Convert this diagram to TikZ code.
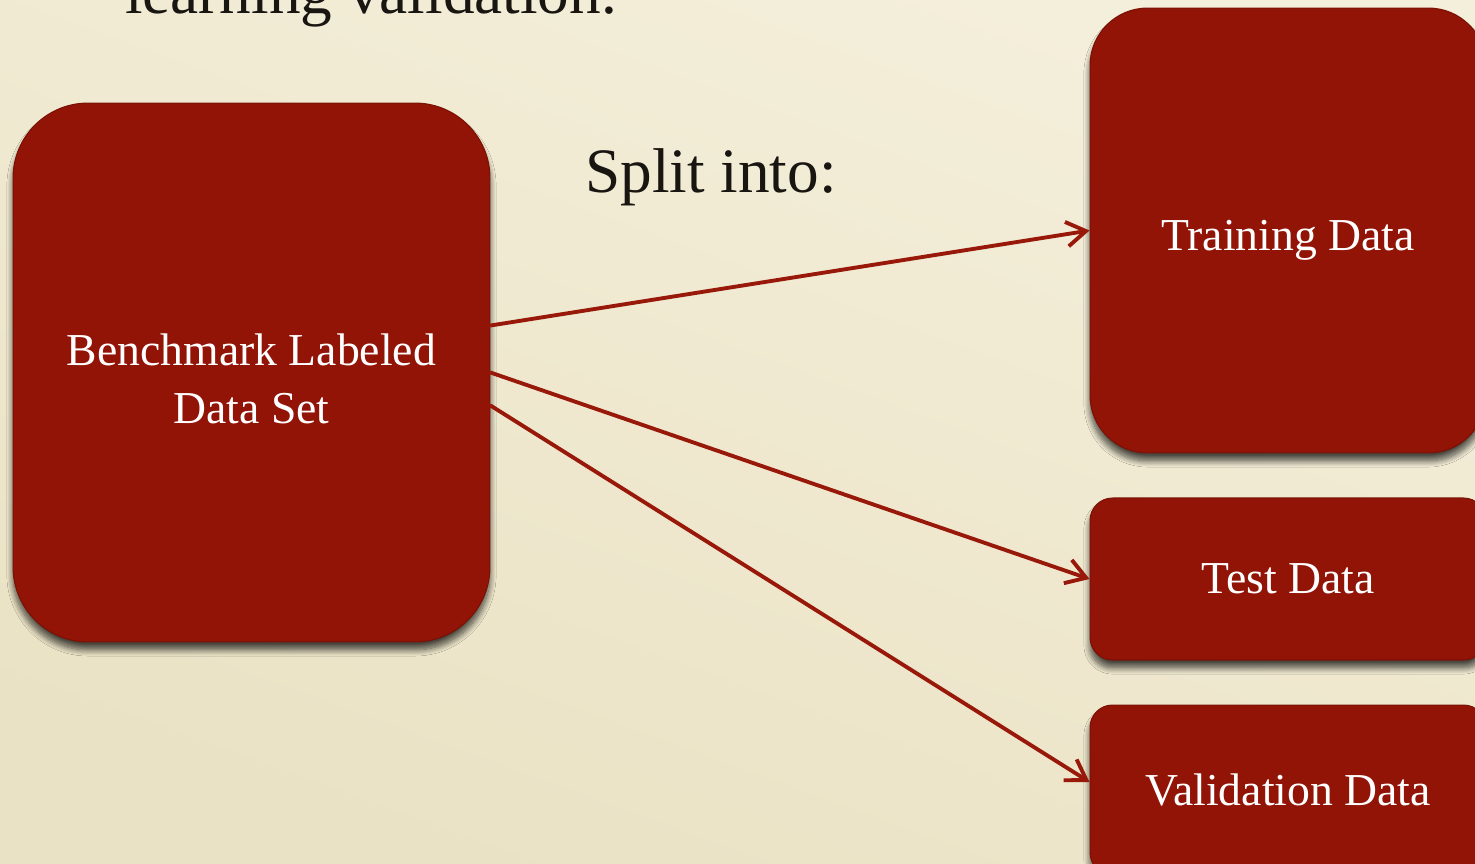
\documentclass[tikz,border=0pt]{standalone}
\usepackage{fontspec}
\setmainfont{Liberation Serif}
\usetikzlibrary{arrows.meta,shadows.blur}
\definecolor{paper}{RGB}{244,239,219}
\definecolor{paperdark}{RGB}{234,226,196}
\definecolor{boxred}{RGB}{145,20,6}
\definecolor{linered}{RGB}{152,24,10}
\definecolor{ink}{RGB}{25,22,18}

\begin{document}
\begin{tikzpicture}[x=0.02cm,y=-0.02cm,
  redbox/.style={fill=boxred, draw=boxred!85!black, line width=0.6pt,
    text=white, align=center, inner sep=0pt,
    font=\fontsize{26}{33}\selectfont,
    blur shadow={shadow xshift=0pt, shadow yshift=-4.5pt,
      shadow blur radius=3.5pt, shadow opacity=70, shadow blur steps=10,
      shadow blur extra rounding=2pt}},
  link/.style={draw=linered, line width=2.2pt, line cap=round,
    -{Straight Barb[length=11pt,width=14pt,line width=2.2pt]}},
  caption/.style={font=\fontsize{36}{40}\selectfont, text=ink,
    inner sep=0pt, anchor=base}]
\useasboundingbox (0,0) rectangle (1475,863);
\clip (0,0) rectangle (1475,863);

% parchment background
\shade[top color=paper, bottom color=paperdark, shading angle=-20]
  (0,0) rectangle (1475,863);

% headings
\node[caption] (heading) at (371,13) {learning validation.};
\node[caption] (split) at (711,192) {Split into:};

% data set boxes
\node[redbox, minimum width=9.54cm, minimum height=10.78cm,
  rounded corners=1.5cm] (src) at (251.5,372.5)
  {\raisebox{-0.12cm}[\height][\depth]{\parbox{8cm}{\centering Benchmark Labeled\\Data Set}}};
\node[redbox, minimum width=7.92cm, minimum height=8.9cm,
  rounded corners=1.15cm] (train) at (1288,230.5)
  {\raisebox{-0.2cm}[\height][\depth]{Training Data}};
\node[redbox, minimum width=7.92cm, minimum height=3.24cm,
  rounded corners=0.45cm] (test) at (1288,579) {Test Data};
\node[redbox, minimum width=7.92cm, minimum height=3.4cm,
  rounded corners=0.45cm] (valid) at (1288,790) {Validation Data};

% split arrows
\draw[link] ([yshift=0.94cm]src.east) -- (train.west);
\draw[link] (src.east) -- (test.west);
\draw[link] ([yshift=-0.66cm]src.east) -- ([yshift=0.16cm]valid.west);
\end{tikzpicture}
\end{document}
